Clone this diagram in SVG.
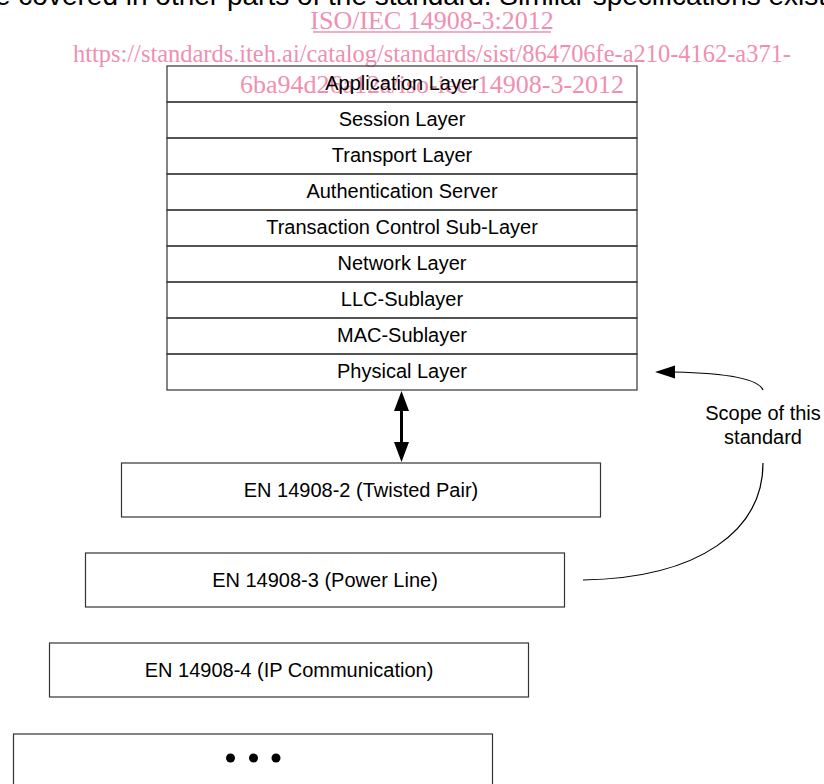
<svg xmlns="http://www.w3.org/2000/svg" width="824" height="784" viewBox="0 0 824 784">
<style>
  .lbl { font-family: "Liberation Sans", Arial, sans-serif; font-size: 20px; fill: #000; text-anchor: middle; }
  .box { fill: none; stroke: #333; stroke-width: 1.2; }
  .wm { font-family: "Liberation Serif", "Times New Roman", serif; font-size: 26px; fill: #f08fb0; text-anchor: middle; }
  .conn { fill: none; stroke: #000; stroke-width: 1.2; }
</style>
<rect width="824" height="784" fill="#fff"/>
<text x="-5" y="5" font-family="Liberation Sans, Arial, sans-serif" font-size="28" fill="#000">e covered in other parts of the standard. Similar specifications exist</text>
<g id="watermark">
  <text class="wm" x="432" y="29">ISO/IEC 14908-3:2012</text>
  <line x1="313" y1="32" x2="551" y2="32" stroke="#f08fb0" stroke-width="1.3"/>
  <text class="wm" x="432" y="62" textLength="718" lengthAdjust="spacingAndGlyphs">https://standards.iteh.ai/catalog/standards/sist/864706fe-a210-4162-a371-</text>
  <text class="wm" x="432" y="93">6ba94d26a12a/iso-iec-14908-3-2012</text>
</g>
<g id="stack">
  <g id="application-layer"><rect class="box" x="167" y="66" width="470" height="36"/><text class="lbl" x="402" y="90">Application Layer</text></g>
  <g id="session-layer"><rect class="box" x="167" y="102" width="470" height="36"/><text class="lbl" x="402" y="126">Session Layer</text></g>
  <g id="transport-layer"><rect class="box" x="167" y="138" width="470" height="36"/><text class="lbl" x="402" y="162">Transport Layer</text></g>
  <g id="authentication-server"><rect class="box" x="167" y="174" width="470" height="36"/><text class="lbl" x="402" y="198">Authentication Server</text></g>
  <g id="transaction-control"><rect class="box" x="167" y="210" width="470" height="36"/><text class="lbl" x="402" y="234">Transaction Control Sub-Layer</text></g>
  <g id="network-layer"><rect class="box" x="167" y="246" width="470" height="36"/><text class="lbl" x="402" y="270">Network Layer</text></g>
  <g id="llc-sublayer"><rect class="box" x="167" y="282" width="470" height="36"/><text class="lbl" x="402" y="306">LLC-Sublayer</text></g>
  <g id="mac-sublayer"><rect class="box" x="167" y="318" width="470" height="36"/><text class="lbl" x="402" y="342">MAC-Sublayer</text></g>
  <g id="physical-layer"><rect class="box" x="167" y="354" width="470" height="36"/><text class="lbl" x="402" y="378">Physical Layer</text></g>
</g>
<g id="en-14908-2"><rect class="box" x="121.5" y="463" width="479" height="54"/><text class="lbl" x="361" y="497">EN 14908-2 (Twisted Pair)</text></g>
<g id="en-14908-3"><rect class="box" x="85.5" y="553" width="479" height="54"/><text class="lbl" x="325" y="587">EN 14908-3 (Power Line)</text></g>
<g id="en-14908-4"><rect class="box" x="49.5" y="643" width="479" height="54"/><text class="lbl" x="289" y="677">EN 14908-4 (IP Communication)</text></g>
<g id="more">
  <rect class="box" x="13.5" y="734" width="479" height="60"/>
  <circle cx="230.5" cy="758" r="4.5" fill="#000"/>
  <circle cx="253.5" cy="758" r="4.5" fill="#000"/>
  <circle cx="276" cy="758" r="4.5" fill="#000"/>
</g>
<g id="scope-label">
  <text class="lbl" x="763" y="420">Scope of this</text>
  <text class="lbl" x="763" y="444">standard</text>
</g>
<g id="connectors">
  <line x1="401.5" y1="408" x2="401.5" y2="445" stroke="#000" stroke-width="3"/>
  <polygon points="401.5,391 394,411 409,411" fill="#000"/>
  <polygon points="401.5,462 394,442 409,442" fill="#000"/>
  <path class="conn" d="M 763 390 C 758 378 722 373 674 372"/>
  <polygon points="655,372 675,365.5 675,378.5" fill="#000"/>
  <path class="conn" d="M 583 580 C 700 578 763 530 763 463"/>
</g>
</svg>
